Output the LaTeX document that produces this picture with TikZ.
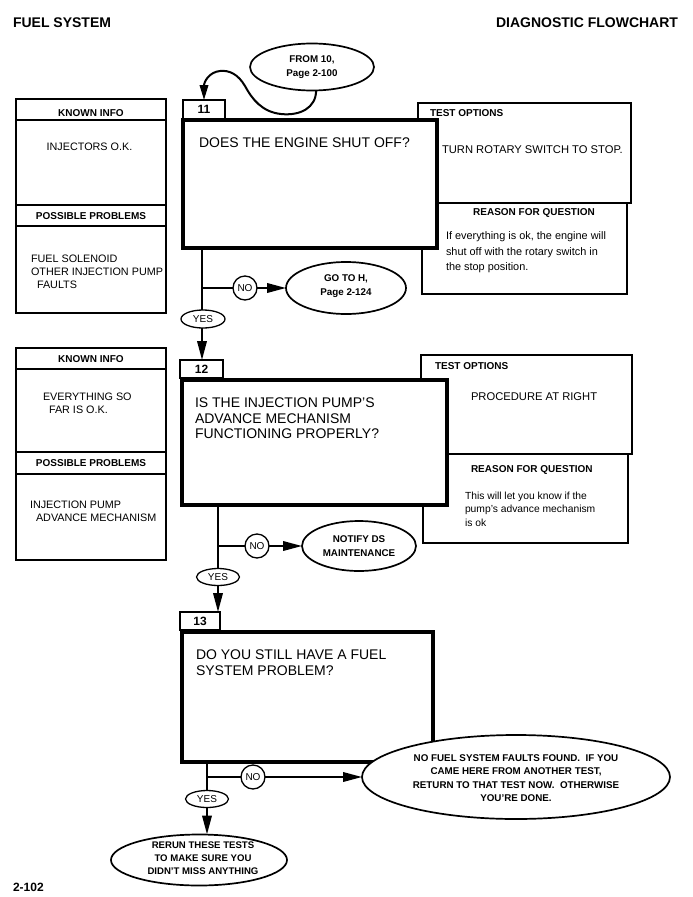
\documentclass[tikz,border=0pt]{standalone}
\usepackage{fontspec}
\setmainfont{Liberation Sans}
\usetikzlibrary{arrows.meta,shapes.geometric,calc}
\begin{document}
\begin{tikzpicture}[x=1pt,y=-1pt,
  every node/.style={inner sep=0pt,outer sep=0pt},
  qbox/.style={draw,line width=4pt,fill=white,rectangle},
  numbox/.style={draw,line width=1.3pt,fill=white,rectangle,font=\bfseries\fontsize{12}{12}\selectfont},
  infobox/.style={draw,line width=1.1pt,rectangle},
  tobox/.style={draw,line width=1.8pt,fill=white,rectangle},
  rbox/.style={draw,line width=1.1pt,fill=white,rectangle},
  oval/.style={draw,line width=1.7pt,ellipse,fill=white},
  nocirc/.style={draw,line width=1.3pt,circle,fill=white,minimum size=24pt,font=\fontsize{10}{10}\selectfont},
  yesoval/.style={draw,line width=1.3pt,ellipse,fill=white,font=\fontsize{10}{10}\selectfont},
  conn/.style={line width=2pt},
  arr/.style={line width=2pt,-{Triangle[length=19pt,width=9.5pt]}},
  hdr/.style={font=\bfseries\fontsize{14}{16}\selectfont},
  lbl/.style={font=\bfseries\fontsize{10}{12}\selectfont},
  body/.style={font=\fontsize{10.8}{13}\selectfont,align=left,anchor=north west},
  opt/.style={font=\fontsize{11.2}{13}\selectfont,anchor=west},
  reas/.style={font=\fontsize{10.9}{15.5}\selectfont,align=left,anchor=north west},
  qtxt/.style={font=\fontsize{14}{15.5}\selectfont,align=left,anchor=north west},
  ovt/.style={font=\bfseries\fontsize{9.8}{13.3}\selectfont,align=center}
]
\useasboundingbox[fill=white] (0,0) rectangle (693,897);

% headers
\node[hdr,anchor=base west] (h1) at (13,27) {FUEL SYSTEM};
\node[hdr,anchor=base east] (h2) at (678,27) {DIAGNOSTIC FLOWCHART};

% ---------------- section 11
\node[infobox,minimum width=150pt,minimum height=214pt] (ki11) at (91,206) {};
\draw[line width=1.1pt] (16,120) -- (166,120) (16,205) -- (166,205) (16,226) -- (166,226);
\node[lbl] (ki11h) at (91,113) {KNOWN INFO};
\node[body,anchor=center] (ki11t) at (89.5,147) {INJECTORS O.K.};
\node[lbl] (pp11h) at (91,216) {POSSIBLE PROBLEMS};
\node[body] (pp11t) at (31,255) {FUEL SOLENOID\\OTHER INJECTION PUMP\\\hspace*{6pt}FAULTS};

\node[rbox,minimum width=205pt,minimum height=91pt] (r11) at (524.5,248.5) {};
\node[tobox,minimum width=213pt,minimum height=100pt] (to11) at (524.5,153) {};
\node[lbl,anchor=west] (to11h) at (430,113) {TEST OPTIONS};
\node[opt] (to11t) at (442,150) {TURN ROTARY SWITCH TO STOP.};
\node[lbl] (r11h) at (534,213) {REASON FOR QUESTION};
\node[reas] (r11t) at (446,232) {If everything is ok, the engine will\\shut off with the rotary switch in\\the stop position.};

\node[qbox,minimum width=254pt,minimum height=128pt] (q11) at (310,184) {};
\node[qtxt] (q11t) at (199,138) {DOES THE ENGINE SHUT OFF?};
\node[numbox,minimum width=42pt,minimum height=19pt] (n11) at (204,109.5) {11};

\node[oval,minimum width=124pt,minimum height=47pt] (from10) at (312,67) {};
\node[ovt] (from10t) at (312,67) {FROM 10,\\Page 2-100};
\draw[arr,-{Triangle[length=15pt,width=8.5pt]}] (from10.-80) .. controls (316,108) and (300,116) .. (281,114)
   .. controls (262,112) and (252,99) .. (245,86)
   .. controls (238,74) and (229,70) .. (220,71)
   .. controls (209,72) and (204,82) .. (n11.north);

\coordinate (j11) at (202,288);
\node[yesoval,minimum width=44pt,minimum height=18pt] (yes11) at (203,319) {YES};
\node[nocirc] (no11) at (245,288) {NO};
\node[oval,minimum width=120pt,minimum height=52pt] (goH) at (346,288) {};
\node[ovt] (goHt) at (346,286) {GO TO H,\\Page 2-124};
\draw[conn] (j11 |- q11.south) -- (j11 |- yes11.north);
\draw[conn] (j11) -- (no11.west);
\draw[arr] (no11.east) -- (goH.west);

% ---------------- section 12
\node[infobox,minimum width=150pt,minimum height=212pt] (ki12) at (91,454) {};
\draw[line width=1.1pt] (16,369) -- (166,369) (16,452) -- (166,452) (16,474) -- (166,474);
\node[lbl] (ki12h) at (91,359) {KNOWN INFO};
\node[body] (ki12t) at (43,393) {EVERYTHING SO\\\hspace*{6pt}FAR IS O.K.};
\node[lbl] (pp12h) at (91,463) {POSSIBLE PROBLEMS};
\node[body] (pp12t) at (30,501) {INJECTION PUMP\\\hspace*{6pt}ADVANCE MECHANISM};

\node[rbox,minimum width=205pt,minimum height=89pt] (r12) at (525.5,498.5) {};
\node[tobox,minimum width=211pt,minimum height=99pt] (to12) at (526.5,404.5) {};
\node[lbl,anchor=west] (to12h) at (435,366) {TEST OPTIONS};
\node[opt] (to12t) at (471,397) {PROCEDURE AT RIGHT};
\node[lbl,anchor=west] (r12h) at (471,470) {REASON FOR QUESTION};
\node[reas,font=\fontsize{10.3}{13.5}\selectfont] (r12t) at (465,492) {This will let you know if the\\pump's advance mechanism\\is ok};

\node[qbox,minimum width=265pt,minimum height=125pt] (q12) at (314.5,442.5) {};
\node[qtxt] (q12t) at (195,398) {IS THE INJECTION PUMP'S\\ADVANCE MECHANISM\\FUNCTIONING PROPERLY?};
\node[numbox,minimum width=43pt,minimum height=18pt] (n12) at (201.5,369) {12};
\draw[arr] (j11 |- yes11.south) -- (j11 |- n12.north);

\coordinate (j12) at (218,546);
\node[yesoval,minimum width=43pt,minimum height=17pt] (yes12) at (218,577) {YES};
\node[nocirc] (no12) at (257,546) {NO};
\node[oval,minimum width=114pt,minimum height=50pt] (notify) at (359,546) {};
\node[ovt] (notifyt) at (359,546) {NOTIFY DS\\MAINTENANCE};
\draw[conn] (j12 |- q12.south) -- (j12 |- yes12.north);
\draw[conn] (j12) -- (no12.west);
\draw[arr] (no12.east) -- (notify.west);

% ---------------- section 13
\node[qbox,minimum width=251pt,minimum height=130pt] (q13) at (307.5,697) {};
\node[qtxt] (q13t) at (196,650) {DO YOU STILL HAVE A FUEL\\SYSTEM PROBLEM?};
\node[numbox,minimum width=40pt,minimum height=18pt] (n13) at (200,621) {13};
\draw[arr] (j12 |- yes12.south) -- (j12 |- n13.north);

\coordinate (j13) at (207,777);
\node[yesoval,minimum width=43pt,minimum height=17pt] (yes13) at (207,799) {YES};
\node[nocirc] (no13) at (253,777) {NO};
\node[oval,minimum width=308pt,minimum height=84pt] (final) at (516,777) {};
\node[ovt] (finalt) at (516,778) {NO FUEL SYSTEM FAULTS FOUND.\ \ IF YOU\\CAME HERE FROM ANOTHER TEST,\\RETURN TO THAT TEST NOW.\ \ OTHERWISE\\YOU'RE DONE.};
\node[oval,minimum width=176pt,minimum height=51pt] (rerun) at (199,860) {};
\node[ovt,font=\bfseries\fontsize{9.6}{13}\selectfont] (reruntx) at (203,858) {RERUN THESE TESTS\\TO MAKE SURE YOU\\DIDN'T MISS ANYTHING};
\draw[conn] (j13 |- q13.south) -- (j13 |- yes13.north);
\draw[conn] (j13) -- (no13.west);
\draw[arr] (no13.east) -- (final.west);
\draw[arr] (j13 |- yes13.south) -- (j13 |- rerun.north);

\node[font=\bfseries\fontsize{12}{12}\selectfont,anchor=north west] (pg) at (13,883) {2-102};
\end{tikzpicture}
\end{document}
